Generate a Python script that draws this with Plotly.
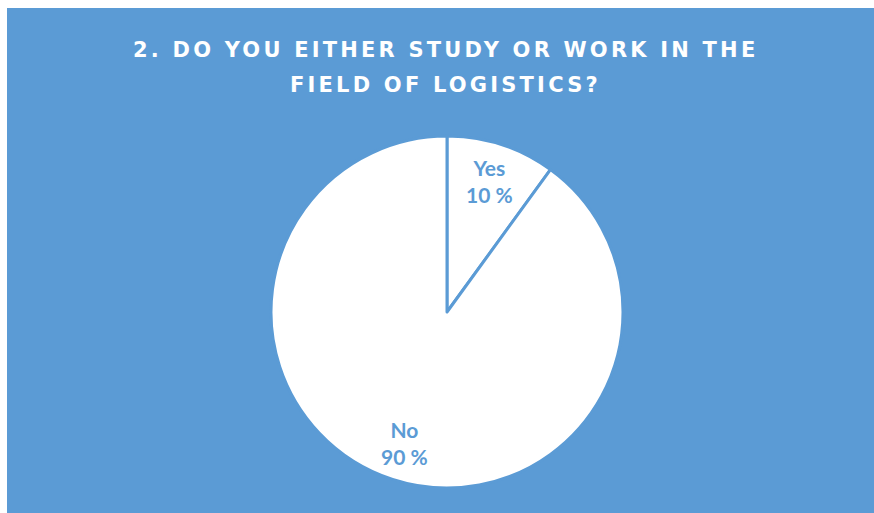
import math
import plotly.graph_objects as go

# Survey answers
labels = ["Yes", "No"]
values = [10, 90]
title_lines = ["2. DO YOU EITHER STUDY OR WORK IN THE", "FIELD OF LOGISTICS?"]

BLUE = "#5B9BD5"
W, H = 874, 513
# plot area (square pie domain) in pixels
L, R, T, B = 271, 251, 136, 25
PW, PH = W - L - R, H - T - B


def px_x(x):
    return (x - L) / PW


def px_y(y):
    return (H - B - y) / PH


fig = go.Figure(
    go.Pie(
        labels=labels,
        values=values,
        sort=False,
        direction="clockwise",
        rotation=0,
        hole=0,
        marker=dict(colors=["white", "white"], line=dict(color=BLUE, width=3)),
        textinfo="none",
        hoverinfo="label+percent",
        showlegend=False,
    )
)

# slice labels placed along each slice's middle angle
total = sum(values)
annotations = []
cum = 0
for lab, val in zip(labels, values):
    mid = (cum + val / 2) / total * 2 * math.pi
    cum += val
    r = 0.39
    annotations.append(
        dict(
            x=0.5 + r * math.sin(mid),
            y=0.5 + r * math.cos(mid),
            xref="paper",
            yref="paper",
            xanchor="center",
            yanchor="middle",
            text=f"{lab}<br>{round(val / total * 100)} %",
            showarrow=False,
            font=dict(family="Lato", size=21, color=BLUE, weight="bold"),
            align="center",
        )
    )

for i, line in enumerate(title_lines):
    annotations.append(
        dict(
            x=px_x(445),
            y=px_y(50 + 35 * i),
            xref="paper",
            yref="paper",
            text=f'<span style="letter-spacing:3.2px">{line}</span>',
            showarrow=False,
            font=dict(family="DejaVu Sans", size=21, color="white", weight="bold"),
            xanchor="center",
            yanchor="middle",
        )
    )

fig.update_layout(
    width=W,
    height=H,
    margin=dict(l=L, r=R, t=T, b=B, pad=0),
    paper_bgcolor="white",
    plot_bgcolor="rgba(0,0,0,0)",
    annotations=annotations,
    shapes=[
        dict(
            type="rect",
            xref="paper",
            yref="paper",
            x0=px_x(7),
            x1=px_x(874),
            y0=px_y(513),
            y1=px_y(8),
            fillcolor=BLUE,
            line=dict(width=0),
            layer="below",
        )
    ],
)

fig.write_html("out.html")
